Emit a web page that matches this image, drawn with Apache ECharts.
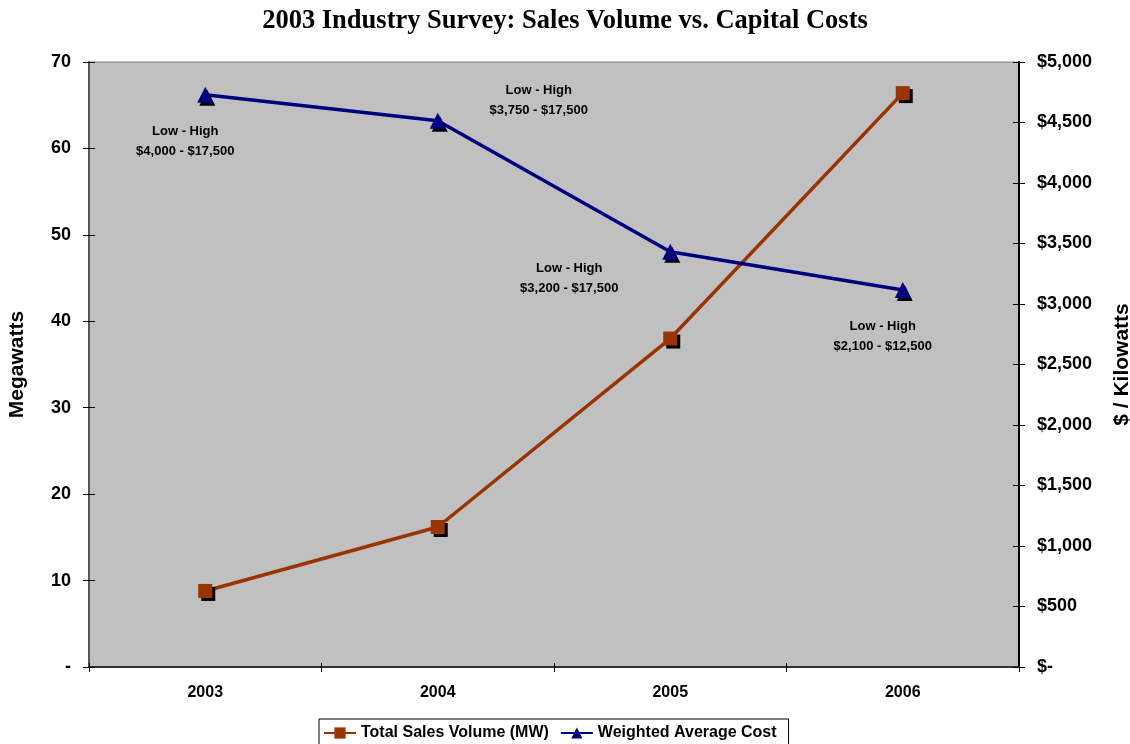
<!DOCTYPE html>
<html>
<head>
<meta charset="utf-8">
<script src="https://cdn.jsdelivr.net/npm/echarts@6/dist/echarts.min.js"></script>
<style>
  html, body { margin: 0; padding: 0; background: #fff; }
  #chart { width: 1130px; height: 744px; }
</style>
</head>
<body>
<div id="chart"></div>
<script>
// Survey years
const years = ['2003', '2004', '2005', '2006'];
// Total sales volume, megawatts
const salesMW = [8.8, 16.2, 38, 66.4];
// Weighted average capital cost, $ per kilowatt
const avgCost = [4730, 4515, 3432, 3115];
// Reported low and high cost for each year
const costLow = [4000, 3750, 3200, 2100];
const costHigh = [17500, 17500, 17500, 12500];
// Where each range note sits relative to its point
const noteOffset = [[-20, 47], [101, -20], [-101, 27], [-20, 46]];

const money = v => '$' + v.toLocaleString('en-US');

const chart = echarts.init(document.getElementById('chart'));
const font = 'Liberation Sans, Arial, sans-serif';

// Tick marks that reach inside the plot, so ticks cross the axis lines
const innerTicks = (min, max, interval, position) => ({
  type: 'value', min, max, interval, position, z: 5,
  axisLine: { show: false },
  axisLabel: { show: false },
  splitLine: { show: false },
  axisTick: { show: true, inside: true, length: 6, lineStyle: { color: '#000' } }
});

chart.setOption({
  animation: false,
  backgroundColor: '#ffffff',
  title: {
    text: '2003 Industry Survey: Sales Volume vs. Capital Costs',
    left: 'center',
    top: 3,
    textStyle: { fontFamily: 'Liberation Serif, Times New Roman, serif', fontWeight: 'bold', fontSize: 26.5, color: '#000' }
  },
  grid: {
    left: 89, right: 111, top: 62, bottom: 77,
    outerBoundsMode: 'none',
    containLabel: false,
    show: true, backgroundColor: '#c0c0c0', borderColor: '#808080', borderWidth: 1
  },
  legend: {
    top: 719,
    left: 319,
    itemGap: 11,
    itemWidth: 32,
    itemHeight: 14,
    padding: [6, 12, 4, 4],
    borderColor: '#000',
    borderWidth: 1,
    textStyle: { fontFamily: font, fontWeight: 'bold', fontSize: 16, color: '#000' },
    data: ['Total Sales Volume (MW)', 'Weighted Average Cost']
  },
  xAxis: [
    {
      type: 'category',
      data: years,
      boundaryGap: true,
      axisLine: { lineStyle: { color: '#333', width: 2 } },
      axisTick: { show: true, length: 5, lineStyle: { color: '#000' } },
      axisLabel: { fontFamily: font, fontWeight: 'bold', fontSize: 16, color: '#000', margin: 18 }
    },
    {
      type: 'category',
      data: years,
      boundaryGap: true,
      position: 'bottom',
      z: 5,
      axisLine: { show: false },
      axisLabel: { show: false },
      axisTick: { show: true, inside: true, length: 4, lineStyle: { color: '#000' } }
    }
  ],
  yAxis: [
    {
      type: 'value', min: 0, max: 70, interval: 10,
      name: 'Megawatts', nameLocation: 'middle', nameRotate: 90, nameGap: 61,
      nameTextStyle: { fontFamily: font, fontWeight: 'bold', fontSize: 21, color: '#000' },
      axisLine: { show: true, lineStyle: { color: '#555', width: 2 } },
      axisTick: { show: true, length: 6, lineStyle: { color: '#000' } },
      splitLine: { show: false },
      axisLabel: {
        fontFamily: font, fontWeight: 'bold', fontSize: 18, color: '#000', margin: 18,
        formatter: v => v === 0 ? '-' : String(v)
      }
    },
    {
      type: 'value', min: 0, max: 5000, interval: 500, position: 'right',
      name: '$ / Kilowatts', nameLocation: 'middle', nameRotate: 90, nameGap: 93,
      nameTextStyle: { fontFamily: font, fontWeight: 'bold', fontSize: 21, color: '#000' },
      axisLine: { show: true, lineStyle: { color: '#000', width: 2 } },
      axisTick: { show: true, length: 6, lineStyle: { color: '#000' } },
      splitLine: { show: false },
      axisLabel: {
        fontFamily: font, fontWeight: 'bold', fontSize: 18, color: '#000', margin: 18,
        formatter: v => v === 0 ? '$-' : money(v)
      }
    },
    innerTicks(0, 70, 10, 'left'),
    innerTicks(0, 5000, 500, 'right')
  ],
  series: [
    {
      name: 'Total Sales Volume (MW)',
      type: 'line',
      xAxisIndex: 0,
      yAxisIndex: 0,
      data: salesMW,
      symbol: 'rect',
      symbolSize: 14,
      lineStyle: { color: '#993300', width: 3.5 },
      itemStyle: { color: '#993300', shadowColor: '#000', shadowOffsetX: 3, shadowOffsetY: 3, shadowBlur: 0 },
      z: 3
    },
    {
      name: 'Weighted Average Cost',
      type: 'line',
      xAxisIndex: 0,
      yAxisIndex: 1,
      data: avgCost.map((v, i) => ({
        value: v,
        label: {
          show: true,
          position: 'inside',
          offset: noteOffset[i],
          formatter: 'Low - High\n' + money(costLow[i]) + ' - ' + money(costHigh[i])
        }
      })),
      symbol: 'triangle',
      symbolSize: 16,
      lineStyle: { color: '#000080', width: 3.5 },
      itemStyle: { color: '#000080', shadowColor: '#000', shadowOffsetX: 2, shadowOffsetY: 3, shadowBlur: 0 },
      label: {
        fontFamily: font, fontWeight: 'bold', fontSize: 13, color: '#000',
        lineHeight: 20, align: 'center'
      },
      z: 4
    }
  ]
});
</script>
</body>
</html>
